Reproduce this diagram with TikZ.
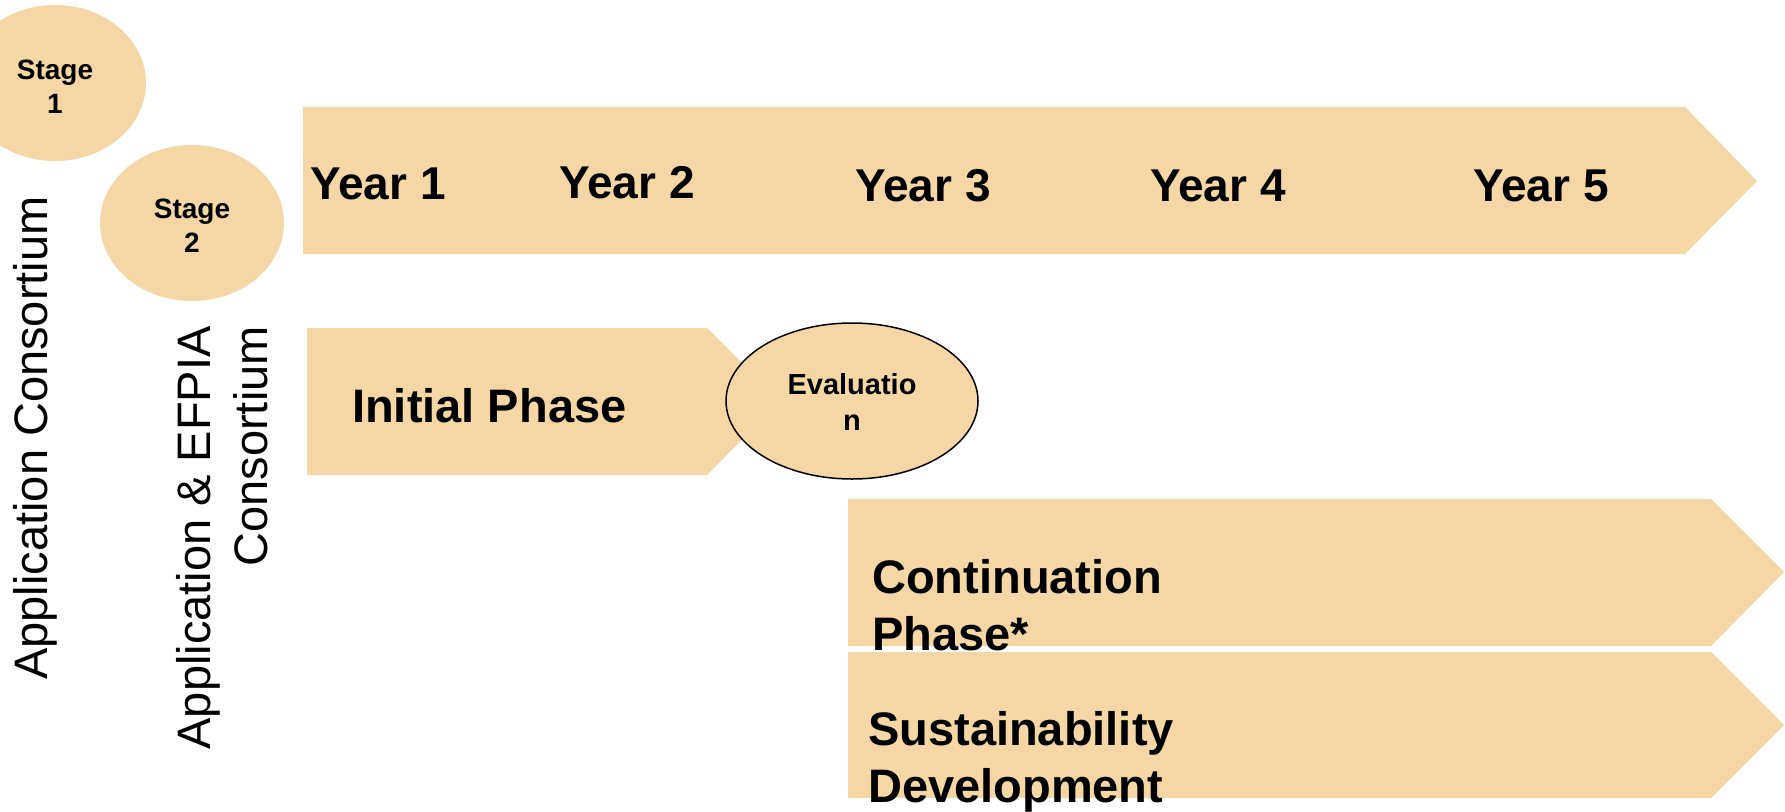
\documentclass[tikz,border=0pt]{standalone}
\usepackage{fontspec}
\setmainfont{Liberation Sans}
\usetikzlibrary{shapes.geometric}
\definecolor{tan}{HTML}{F5D6A5}
\tikzset{
  phasebox/.style={fill=tan, draw=none},
  stageell/.style={ellipse, fill=tan, draw=none, inner sep=0pt},
  bigbold/.style={font=\fontsize{47}{57}\selectfont\bfseries, inner sep=0pt},
  yearlbl/.style={font=\fontsize{46}{55}\selectfont\bfseries, inner sep=0pt, anchor=base},
  smallbold/.style={font=\fontsize{28}{34}\selectfont\bfseries, inner sep=0pt, align=center, anchor=base},
  sidelbl/.style={font=\fontsize{47}{57}\selectfont, inner sep=0pt, rotate=90}
}
\begin{document}
\begin{tikzpicture}[x=1pt, y=-1pt]
\useasboundingbox (0,0) rectangle (1785,811);
% shapes
\path[phasebox] (303,107) -- (1685,107) -- (1757,181) -- (1685,254) -- (303,254) -- cycle;
\path[phasebox] (307,328) -- (707,328) -- (780,401) -- (707,475) -- (307,475) -- cycle;
\path[phasebox] (848,499) -- (1711,499) -- (1784,572) -- (1711,646) -- (848,646) -- cycle;
\path[phasebox] (848,652) -- (1711,652) -- (1784,725) -- (1711,798) -- (848,798) -- cycle;
\node[stageell, minimum width=182pt, minimum height=156pt] (st1) at (55,83) {};
\node[stageell, minimum width=184pt, minimum height=156pt] (st2) at (192,223) {};
\node[stageell, draw=black, line width=1.5pt, minimum width=252pt, minimum height=156pt] (eval) at (852,401) {};
% texts (multi-line nodes: base anchor = last line baseline)
\node[smallbold] (st1t) at (55,113) {Stage\\1};
\node[smallbold] (st2t) at (192,252) {Stage\\2};
\node[font=\fontsize{29}{36}\selectfont\bfseries, inner sep=0pt, align=center, anchor=base] (evalt) at (852,430) {Evaluatio\\n};
\node[yearlbl] (y1) at (378,199) {Year 1};
\node[yearlbl] (y2) at (627,198) {Year 2};
\node[yearlbl] (y3) at (923,201) {Year 3};
\node[yearlbl] (y4) at (1218,201) {Year 4};
\node[yearlbl] (y5) at (1541,201) {Year 5};
\node[bigbold, anchor=base west] (init) at (352,422) {Initial Phase};
\node[bigbold, anchor=base west, align=left] (cont) at (872,650) {Continuation\\Phase*};
\node[bigbold, anchor=base west, align=left] (sust) at (868,802) {Sustainability\\Development};
\node[sidelbl, anchor=base] (app1) at (47,438) {Application Consortium};
\node[sidelbl, anchor=base east, align=right] (app2) at (267,326) {Application \& EFPIA\\Consortium};
\end{tikzpicture}
\end{document}
